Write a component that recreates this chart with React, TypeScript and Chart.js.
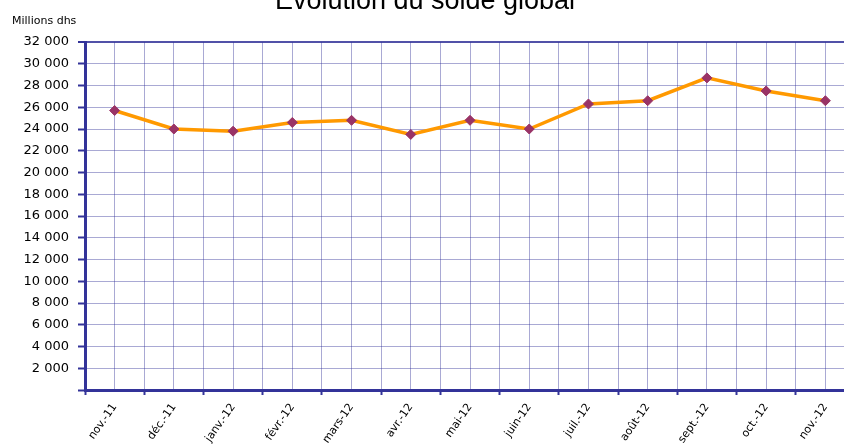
import React, { useEffect, useRef } from "react";
import { Chart, registerables } from "chart.js";

Chart.register(...registerables);

const months = [
  "nov.-11", "déc.-11", "janv.-12", "févr.-12", "mars-12", "avr.-12", "mai-12",
  "juin-12", "juil.-12", "août-12", "sept.-12", "oct.-12", "nov.-12",
];
const soldeGlobal = [25700, 24000, 23800, 24600, 24800, 23500, 24800, 24000, 26300, 26600, 28700, 27500, 26600];
const yTicks = [0, 2000, 4000, 6000, 8000, 10000, 12000, 14000, 16000, 18000, 20000, 22000, 24000, 26000, 28000, 30000, 32000];
const chartTitle = "Evolution du solde global";
const unitLabel = "Millions dhs";

const fmt = (v: number) => String(v).replace(/\B(?=(\d{3})+(?!\d))/g, " ");

const CANVAS_W = 861;

const textPlugin = {
  id: "texts",
  afterDraw(chart: any) {
    const ctx = chart.ctx;
    ctx.save();
    ctx.fillStyle = "#000";
    ctx.textBaseline = "alphabetic";
    ctx.font = "27px 'Liberation Sans', Arial, sans-serif";
    ctx.textAlign = "center";
    ctx.fillText(chartTitle, 425, 9);
    ctx.font = "11px 'DejaVu Sans', sans-serif";
    ctx.textAlign = "left";
    ctx.fillText(unitLabel, 12, 24);
    ctx.restore();
  },
};

export default function App() {
  const ref = useRef<HTMLCanvasElement | null>(null);
  useEffect(() => {
    if (!ref.current) return;
    const halfSteps: number[] = [];
    for (let i = -1; i <= months.length * 2 - 1; i++) halfSteps.push(i / 2);
    const chart = new Chart(ref.current, {
      type: "line",
      data: {
        datasets: [
          {
            data: soldeGlobal.map((v, i) => ({ x: i, y: v })),
            borderColor: "#ff9900",
            borderWidth: 3.5,
            pointStyle: "rectRot",
            pointRadius: 5,
            pointBackgroundColor: "#993366",
            pointBorderColor: "#993366",
            pointBorderWidth: 1,
            tension: 0,
          },
        ],
      },
      options: {
        animation: false,
        responsive: false,
        layout: { padding: { top: 42, left: 0, right: 0, bottom: 0 } },
        plugins: { legend: { display: false }, title: { display: false }, tooltip: { enabled: false } },
        scales: {
          x: {
            type: "linear",
            min: -0.5,
            max: 12.5,
            afterBuildTicks: (axis: any) => {
              axis.ticks = halfSteps.map((v) => ({ value: v }));
            },
            afterFit: (axis: any) => {
              axis.height = 58;
              axis.paddingLeft = 0;
              axis.paddingRight = 0;
            },
            border: { display: true, color: "#333399", width: 3 },
            grid: {
              color: "rgba(51,51,153,0.42)",
              lineWidth: 1,
              tickLength: 5,
              tickWidth: 2,
              tickColor: (c: any) => (c.tick && c.tick.value % 1 !== 0 ? "#333399" : "rgba(0,0,0,0)"),
            },
            ticks: {
              autoSkip: false,
              minRotation: 55,
              maxRotation: 55,
              padding: 6,
              color: "#000",
              font: { family: "'DejaVu Sans', sans-serif", size: 11 },
              callback: (v: any) => {
                const n = Number(v);
                return Number.isInteger(n) && months[n] ? months[n] : "";
              },
            },
          },
          y: {
            min: 0,
            max: 32000,
            afterBuildTicks: (axis: any) => {
              axis.ticks = yTicks.map((v) => ({ value: v }));
            },
            afterFit: (axis: any) => {
              axis.width = 85;
            },
            border: { display: true, color: "#333399", width: 3 },
            grid: {
              color: (c: any) => (c.tick && c.tick.value === 32000 ? "rgba(51,51,153,0.85)" : "rgba(51,51,153,0.42)"),
              lineWidth: (c: any) => (c.tick && c.tick.value === 32000 ? 2 : 1),
              tickLength: 7,
              tickWidth: 2,
              tickColor: "#333399",
            },
            ticks: {
              padding: 9,
              color: "#000",
              font: { family: "'DejaVu Sans', sans-serif", size: 13 },
              callback: (v: any) => (Number(v) === 0 ? "" : fmt(Number(v))),
            },
          },
        },
      },
      plugins: [textPlugin],
    });
    return () => chart.destroy();
  }, []);
  return (
    <div style={{ position: "fixed", left: 0, top: 0, width: 844, height: 448, background: "#fff", overflow: "hidden" }}>
      <canvas ref={ref} width={CANVAS_W} height={448} style={{ display: "block", width: CANVAS_W, height: 448 }} />
    </div>
  );
}
